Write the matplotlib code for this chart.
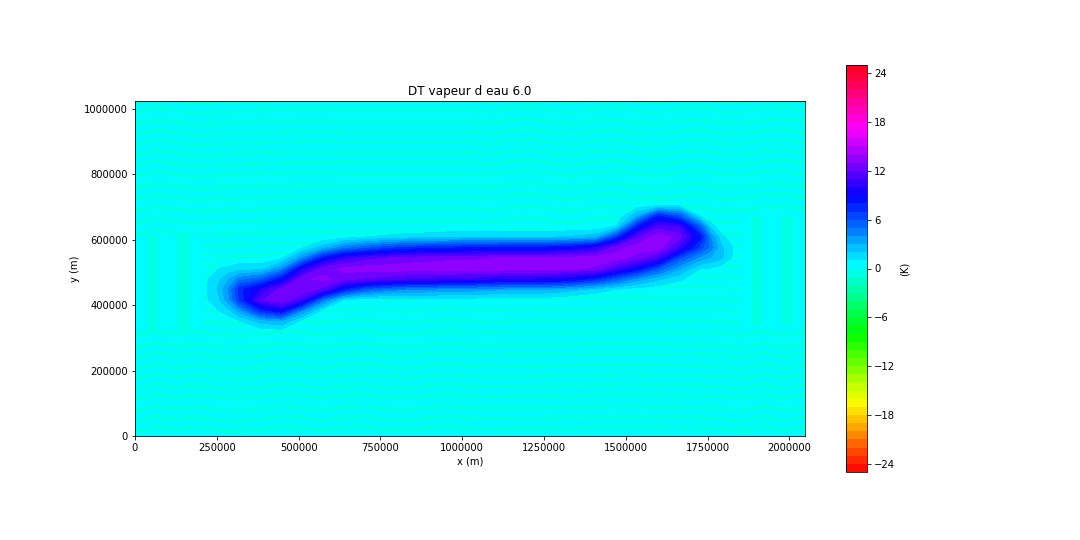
import matplotlib
matplotlib.use('Agg')
import matplotlib.pyplot as plt
import numpy as np

# plume values (K) on plume_x_km / plume_y_km, finer columns near the two ends
plume_x_km = [192, 224, 256, 288, 320, 384, 448, 512, 576, 640, 704, 768, 832, 896, 960, 1024,
              1088, 1152, 1216, 1280, 1344, 1408, 1472, 1536, 1600, 1664, 1728, 1760, 1792, 1824, 1856]
plume_y_km = [288, 320, 352, 384, 416, 448, 480, 512, 544, 576, 608, 640, 672, 704, 736]
plume_dt = [
    [0, 0, 0, 0, 0, 0, 0, 0, 0, 0, 0, 0, 0, 0, 0, 0, 0, 0, 0, 0, 0, 0, 0, 0, 0, 0, 0, 0, 0, 0, 0],
    [0, 0, 0, 0, 0.1, 0.4, 0.5, 0, 0, 0, 0, 0, 0, 0, 0, 0, 0, 0, 0, 0, 0, 0, 0, 0, 0, 0, 0, 0, 0, 0, 0],
    [0, 0, 0, 0.3, 1, 2.5, 3, 0.6, 0, 0, 0, 0, 0, 0, 0, 0, 0, 0, 0, 0, 0, 0, 0, 0, 0, 0, 0, 0, 0, 0, 0],
    [0, 0.3, 1, 1.8, 3.5, 7.5, 9, 4, 0.5, 0, 0, 0, 0, 0, 0, 0, 0, 0, 0, 0, 0, 0, 0, 0, 0, 0, 0, 0, 0, 0, 0],
    [0, 1, 1.8, 3.8, 7, 11.8, 13, 10.5, 4.5, 0.8, 0.3, 0.3, 0.4, 0.5, 0.5, 0.5, 0.4, 0.3, 0.3, 0.3, 0.1, 0, 0, 0, 0, 0, 0, 0, 0, 0, 0],
    [0, 1.1, 2.2, 4.2, 7.5, 10, 12.5, 13, 11.5, 7.8, 5.5, 4.5, 4, 3.8, 3.6, 3.5, 3.2, 3, 3, 2.8, 2.2, 1.6, 0.9, 0.5, 0.3, 0.1, 0, 0, 0, 0, 0],
    [0, 1, 1.8, 3, 4.5, 5.5, 8.5, 12.8, 13.3, 12.5, 11.8, 11.5, 11, 10.8, 10.6, 10.5, 10, 9.8, 9.7, 9.5, 8.8, 7.5, 5.5, 3.5, 2.2, 1.2, 0.3, 0.1, 0, 0, 0],
    [0, 0.5, 1, 1.2, 1.5, 1.5, 3.8, 9.5, 12.5, 13.3, 13.5, 13.5, 13.6, 13.6, 13.6, 13.6, 13.6, 13.5, 13.5, 13.4, 13.2, 12.8, 10.8, 8.8, 5.8, 3.2, 1, 0.9, 0.4, 0.1, 0],
    [0, 0, 0.1, 0.2, 0.4, 0.4, 0.8, 4, 8.3, 10.5, 11.5, 12, 12.4, 12.6, 12.8, 12.8, 13, 13.2, 13.2, 13.4, 13.4, 13.6, 13.5, 12.5, 10.8, 6, 3.5, 2.8, 2.2, 1, 0],
    [0, 0, 0, 0, 0, 0, 0.1, 0.9, 2.5, 4.5, 5.5, 6.5, 7.2, 7.5, 7.7, 8, 8, 8.2, 8.2, 8.4, 9, 10, 12.6, 13.6, 13.6, 10.5, 6.5, 4.5, 2.2, 1.1, 0],
    [0, 0, 0, 0, 0, 0, 0, 0.1, 0.3, 0.6, 1, 1.2, 1.5, 1.6, 1.8, 2, 2, 2, 2, 2, 2.2, 2.6, 7, 11.8, 13.8, 12.5, 8.3, 4, 1.4, 0.4, 0],
    [0, 0, 0, 0, 0, 0, 0, 0, 0, 0, 0.1, 0.1, 0.1, 0.1, 0.2, 0.2, 0.2, 0.2, 0.2, 0.2, 0.2, 0.3, 1.2, 8, 11.5, 11, 5.5, 1.6, 0.2, 0, 0],
    [0, 0, 0, 0, 0, 0, 0, 0, 0, 0, 0, 0, 0, 0, 0, 0, 0, 0, 0, 0, 0, 0, 0.1, 3, 8, 6, 0.9, 0.2, 0, 0, 0],
    [0, 0, 0, 0, 0, 0, 0, 0, 0, 0, 0, 0, 0, 0, 0, 0, 0, 0, 0, 0, 0, 0, 0, 0.5, 1, 0.9, 0.1, 0, 0, 0, 0],
    [0, 0, 0, 0, 0, 0, 0, 0, 0, 0, 0, 0, 0, 0, 0, 0, 0, 0, 0, 0, 0, 0, 0, 0, 0, 0, 0, 0, 0, 0, 0],
]

# faint background stripes: row heights and the value on each row
bg_y_km = [-40, 8, 24, 40, 55, 70, 86, 104, 122, 138, 153, 168, 183, 198, 214, 231, 248, 263, 278,
           296, 315, 333, 352, 368, 385, 403, 422, 439, 456, 472, 489, 506, 523, 540, 556, 573, 590,
           607, 624, 642, 660, 678, 697, 714, 731, 749, 767, 785, 804, 820, 835, 851, 868, 883, 899,
           914, 929, 946, 963, 980, 997, 1012, 1027, 1080]
bg_dt = [0.5, 0.5, -0.6, 0.5, -0.6, 0.6, -0.6, 0.6, -0.6, 0.5, -0.6, 0.6, -0.6, 0.5, -0.6, 0.6, -0.6, 0.5, -0.6,
         0.6, -0.6, 0.5, -0.6, 0.6, -0.5, 0.6, -0.5, 0.6, -0.5, 0.6, -0.5, 0.6, -0.5, 0.6, -0.5, 0.6, -0.5,
         0.6, -0.5, 0.6, -0.6, 0.5, -0.6, 0.6, -0.6, 0.5, -0.6, 0.6, -0.6, 0.5, -0.6, 0.5, -0.6, 0.6, -0.6,
         0.5, -0.6, 0.5, -0.6, 0.6, -0.6, 0.5, -0.6, 0.5]
bg_x_km = [0, 64, 128, 192, 256, 320, 384, 448, 512, 576, 640, 704, 768, 832, 896, 960, 1024,
           1088, 1152, 1216, 1280, 1344, 1408, 1472, 1536, 1600, 1664, 1728, 1792, 1856, 1920, 1984, 2048]
# the stripes wobble differently above and below the plume
split_y_km = 560
shift_upper_km = [-8, 6, -2, -10, -6, -4, -2, 0, 1, 1, 0, 0, 0, 0, 0, 0, 0,
                  -6, 5, 8, -3, -7, 4, 7, -4, -7, 3, 7, -5, -6, 5, 7, -2]
shift_lower_km = [-8, 6, -2, 4, -5, -8, -2, 6, 2, -5, 3, 6, -2, -6, 2, 6, 1,
                  0, 1, 1, 2, 3, 4, 5, 5, 4, 3, 2, 0, -8, 6, -6, 4]

# vertical stripes on both sides of the plume
left_x_km = [0, 30, 52, 80, 120, 147, 175, 210]
left_dt = [0.5, 0.3, -0.7, 0.3, 0.3, -0.7, 0.3, 0.5]
left_y_km = [324, 614]
right_x_km = [1850, 1880, 1901, 1922, 1965, 1993, 2020, 2048]
right_dt = [0.5, 0.3, -0.7, 0.3, 0.3, -0.7, 0.3, 0.5]
right_y_km = [338, 675]

levels = np.arange(-25, 26, 1)
xticks = [0, 250000, 500000, 750000, 1000000, 1250000, 1500000, 1750000, 2000000]
yticks = [0, 200000, 400000, 600000, 800000, 1000000]
cbar_ticks = [-24, -18, -12, -6, 0, 6, 12, 18, 24]

fig = plt.figure(figsize=(15, 7.5), dpi=72)
ax = fig.add_axes([135 / 1080, 1 - 436 / 540, 670 / 1080, 335 / 540])
cax = fig.add_axes([846 / 1080, 1 - 472 / 540, 21 / 1080, 407 / 540])

# background layer keeps the full level range, so the colorbar comes from it
bg_x = np.array(bg_x_km) * 1000.0
bg_y = np.array(bg_y_km) * 1000.0
shift = np.where(bg_y[:, None] > split_y_km * 1000.0, np.array(shift_upper_km)[None, :], np.array(shift_lower_km)[None, :])
X = np.tile(bg_x, (len(bg_y), 1))
Y = bg_y[:, None] + shift * 1000.0
Z = np.tile(np.array(bg_dt)[:, None], (1, len(bg_x)))
cs = ax.contourf(X, Y, Z, levels=levels, cmap='hsv', vmin=-25, vmax=25)

for px, py, pz in [(left_x_km, left_y_km, left_dt), (right_x_km, right_y_km, right_dt)]:
    ax.contourf(np.array(px) * 1000.0, np.array(py) * 1000.0, np.tile(pz, (2, 1)),
                levels=[-1, 0, 1], cmap='hsv', vmin=-25, vmax=25)

# plume on top, only above 1 K so the stripes stay visible around it
ax.contourf(np.array(plume_x_km) * 1000.0, np.array(plume_y_km) * 1000.0, np.array(plume_dt),
            levels=levels[levels >= 1], cmap='hsv', vmin=-25, vmax=25)

ax.set_xlim(0, 2048000)
ax.set_ylim(0, 1024000)
ax.set_xticks(xticks)
ax.set_yticks(yticks)
ax.ticklabel_format(style='plain')
ax.set_xlabel('x (m)')
ax.set_ylabel('y (m)')
ax.set_title('DT vapeur d eau 6.0')

cbar = fig.colorbar(cs, cax=cax, ticks=cbar_ticks)
cbar.set_label('(K)')

plt.savefig('out.png', dpi=72)
